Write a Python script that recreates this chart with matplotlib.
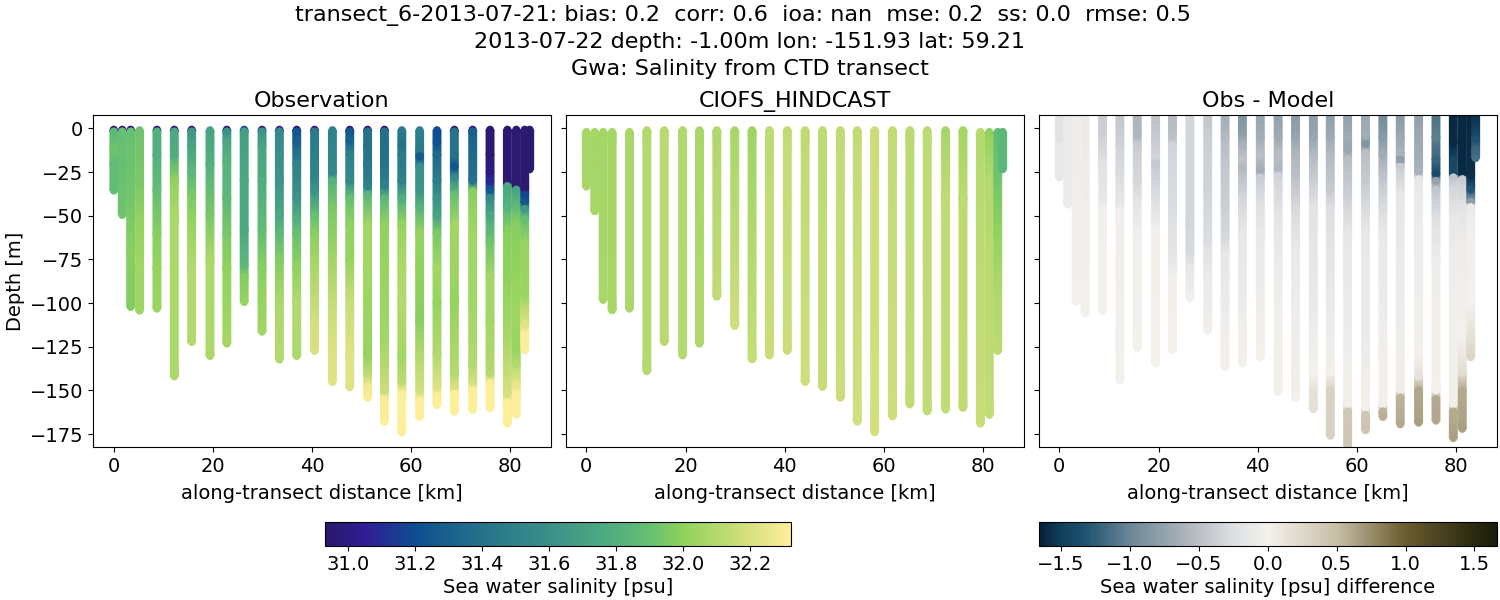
import matplotlib
matplotlib.use('Agg')
import matplotlib.pyplot as plt
from matplotlib.cm import ScalarMappable
from matplotlib.colors import LinearSegmentedColormap, Normalize

title_text = ('transect_6-2013-07-21: bias: 0.2  corr: 0.6  ioa: nan  mse: 0.2  ss: 0.0  rmse: 0.5  \n'
	'2013-07-22 depth: -1.00m lon: -151.93 lat: 59.21\n'
	'Gwa: Salinity from CTD transect')

# along-transect position of each cast, km
distance = [0, 1.7, 3.4, 5.2, 8.7, 12.2, 15.7, 19.4, 22.8, 26.3, 29.9, 33.4, 36.9, 40.5,
	44.1, 47.6, 51.2, 54.6, 58.1, 61.7, 65.2, 68.7, 72.4, 75.9, 79.4, 81.2, 82.9, 83.9]

# each cast is a list of depths (m) and the value read at each of them
obs_depth = [
	[0.7, 1.7, 12, 20, 35.6],
	[0.7, 1.7, 20, 49.5],
	[0.7, 1.7, 40, 70, 102.2],
	[1, 30, 50, 80, 104.3],
	[0.7, 1.7, 15, 35, 60, 80, 103.2],
	[0.7, 1.7, 15, 30, 50, 142],
	[0.7, 1.7, 10, 25, 38, 50, 80, 122.3],
	[1, 20, 50, 75, 130.3],
	[0.7, 1.7, 8, 18, 40, 60, 80, 123.2],
	[0.7, 1.7, 30, 58, 78, 85, 99.4],
	[0.7, 1.7, 10, 30, 58, 80, 116.4],
	[0.7, 1.7, 15, 30, 50, 60, 75, 100, 132.4],
	[0.7, 1.7, 8, 20, 40, 52, 60, 80, 100, 130.3],
	[0.7, 1.7, 20, 28, 36, 50, 60, 75, 110, 127.4],
	[1, 25, 30, 45, 70, 100, 130, 145.2],
	[0.7, 1.7, 7, 15, 30, 40, 55, 75, 95, 130, 148.2],
	[0.7, 1.7, 10, 20, 33, 38, 55, 80, 130, 140, 148, 154.2],
	[0.7, 1.7, 10, 20, 33, 40, 55, 120, 135, 150, 155, 168],
	[1, 10, 15, 30, 40, 55, 80, 100, 130, 145, 152, 174.2],
	[1, 12, 16, 22, 35, 45, 60, 78, 110, 130, 150, 156, 165.2],
	[1, 8, 15, 30, 40, 50, 60, 80, 100, 130, 148, 153, 158.4],
	[0.7, 1.7, 15, 22, 28, 38, 55, 100, 140, 148, 152, 162.2],
	[0.7, 1.7, 30, 36, 60, 100, 135, 145, 150, 161.2],
	[0.7, 15, 25, 30, 35, 40, 50, 65, 85, 110, 140, 146, 160.2],
	[0.7, 31, 33, 45, 58, 85, 120, 140, 152, 157, 169],
	[0.7, 33, 35, 45, 55, 80, 110, 126, 135, 147, 152, 164],
	[0.7, 34, 38, 42, 46, 52, 65, 95, 105, 112, 118, 127],
	[0.7, 23.4],
]
obs_salinity = [
	[30.95, 31.85, 31.92, 31.88, 31.88],
	[31.0, 31.9, 31.9, 31.92],
	[30.95, 31.9, 31.93, 31.98, 31.97],
	[31.92, 31.95, 32.0, 32.05, 32.04],
	[30.95, 31.8, 31.8, 31.88, 31.98, 32.02, 32.03],
	[30.95, 31.75, 31.78, 32.0, 32.08, 32.08],
	[31.0, 31.65, 31.72, 31.85, 31.95, 32.0, 32.1, 32.1],
	[31.72, 31.8, 31.95, 32.08, 32.08],
	[30.95, 31.6, 31.75, 31.82, 31.85, 31.95, 32.0, 32.06],
	[31.2, 31.68, 31.75, 31.75, 31.85, 31.97, 32.02],
	[31.0, 31.62, 31.72, 31.78, 31.88, 31.98, 32.05],
	[31.05, 31.55, 31.6, 31.62, 31.75, 31.85, 31.97, 32.08, 32.1],
	[30.95, 31.25, 31.3, 31.5, 31.62, 31.8, 31.9, 32.0, 32.1, 32.08],
	[31.0, 31.45, 31.5, 31.52, 31.62, 31.9, 31.98, 32.05, 32.18, 32.2],
	[31.5, 31.55, 31.82, 31.95, 32.03, 32.15, 32.22, 32.22],
	[31.0, 31.25, 31.3, 31.5, 31.55, 31.9, 32.0, 32.02, 32.14, 32.22, 32.22],
	[31.0, 31.4, 31.4, 31.42, 31.5, 31.85, 32.05, 32.05, 32.02, 32.12, 32.28, 32.3],
	[30.95, 31.4, 31.38, 31.4, 31.5, 31.85, 32.0, 32.05, 32.1, 32.16, 32.3, 32.32],
	[31.45, 31.4, 31.45, 31.5, 31.78, 32.02, 32.08, 32.1, 32.05, 32.12, 32.32, 32.32],
	[31.5, 31.45, 31.25, 31.6, 31.62, 31.82, 32.02, 32.0, 31.98, 32.1, 32.18, 32.32, 32.32],
	[31.2, 31.22, 31.35, 31.48, 31.62, 31.72, 31.95, 32.05, 32.02, 32.1, 32.22, 32.32, 32.32],
	[30.95, 31.4, 31.4, 31.25, 31.55, 31.9, 32.05, 32.02, 32.1, 32.2, 32.32, 32.32],
	[30.98, 31.3, 31.4, 31.98, 32.05, 32.05, 32.1, 32.18, 32.32, 32.32],
	[30.95, 30.95, 31.0, 31.08, 31.25, 31.55, 31.75, 31.92, 32.05, 32.05, 32.1, 32.32, 32.32],
	[30.95, 30.95, 31.75, 31.82, 31.98, 32.0, 32.07, 32.15, 32.2, 32.32, 32.32],
	[30.95, 30.95, 31.72, 31.88, 31.98, 32.0, 32.05, 32.02, 32.1, 32.25, 32.32, 32.32],
	[30.95, 30.95, 31.18, 31.25, 31.65, 31.9, 32.02, 32.03, 32.15, 32.22, 32.32, 32.32],
	[30.95, 30.95],
]

model_depth = [
	[2, 33.3],
	[2, 47.4],
	[2, 98.2],
	[2, 104.1],
	[2, 103.2],
	[1, 139],
	[1, 122.3],
	[1, 130],
	[1, 123.2],
	[1, 96.3],
	[1, 113.1],
	[1, 132.2],
	[1, 130],
	[1, 127.3],
	[1, 145.2],
	[1, 148],
	[1, 154.2],
	[1, 167.9],
	[1, 174],
	[1, 165],
	[1, 158],
	[1, 162],
	[1, 40, 161],
	[1, 40, 160],
	[2, 169],
	[2, 30, 164],
	[2, 30, 60, 90, 127.4],
	[2, 23.4],
]
model_salinity = [
	[32.06, 32.07],
	[32.06, 32.07],
	[32.05, 32.07],
	[32.05, 32.07],
	[32.07, 32.08],
	[32.1, 32.1],
	[32.11, 32.11],
	[32.09, 32.1],
	[32.07, 32.09],
	[32.09, 32.13],
	[32.07, 32.17],
	[32.04, 32.15],
	[32.12, 32.16],
	[32.14, 32.16],
	[32.13, 32.17],
	[32.12, 32.15],
	[32.13, 32.16],
	[32.14, 32.18],
	[32.16, 32.18],
	[32.14, 32.17],
	[32.11, 32.14],
	[32.12, 32.14],
	[32.06, 32.13, 32.14],
	[32.05, 32.12, 32.13],
	[32.1, 32.16],
	[32.0, 32.1, 32.14],
	[31.87, 31.93, 32.01, 32.08, 32.12],
	[31.85, 31.85],
]

diff_depth = [
	[-10, 5, 10, 28],
	[-10, 43.6],
	[-10, 99.2],
	[-10, 30, 105.8],
	[-10, 2, 20, 43, 46, 80, 104.5],
	[-10, 10, 25, 43, 47, 144.2],
	[-10, 4, 10, 30, 42, 60, 125.7],
	[-10, 8, 16, 20, 40, 58, 134.5],
	[-10, 4, 10, 50, 75, 85, 126.9],
	[-10, 55, 70, 80, 97.2],
	[-10, 5, 35, 65, 85, 115.8],
	[-10, 5, 20, 45, 62, 72, 100, 136.6],
	[-10, 2, 10, 18, 22, 40, 60, 100, 134.5],
	[-10, 5, 15, 24, 28, 42, 60, 131],
	[-10, 5, 15, 23, 27, 50, 80, 150.9],
	[-10, 5, 15, 27, 45, 70, 154.2],
	[-10, 5, 15, 30, 45, 110, 140, 150, 160.8],
	[-10, 5, 15, 35, 45, 100, 140, 150, 176],
	[-10, 5, 12, 18, 38, 60, 125, 158, 162, 190],
	[-10, 4, 9, 14, 30, 45, 60, 130, 160, 164, 172.8],
	[-10, 5, 15, 27, 45, 60, 130, 158, 162, 165.2],
	[-10, 5, 14, 18, 22, 38, 130, 150, 154, 169.4],
	[-10, 25, 29, 40, 130, 142, 150, 168.5],
	[-10, 5, 18, 26, 30, 35, 50, 75, 150, 155, 167.3],
	[-10, 8, 18, 26, 28, 35, 50, 70, 130, 158, 162, 177.3],
	[-10, 26, 29, 45, 65, 120, 140, 150, 172],
	[-10, 27, 35, 42, 45, 60, 100, 120, 131],
	[-10, 6, 12, 17],
]
diff_salinity = [
	[-0.22, -0.22, -0.14, -0.13],
	[-0.1, -0.09],
	[-0.07, -0.03],
	[-0.1, -0.06, -0.02],
	[-0.42, -0.38, -0.22, -0.12, -0.05, -0.02, 0.01],
	[-0.48, -0.36, -0.28, -0.15, -0.05, 0.01],
	[-0.6, -0.58, -0.4, -0.3, -0.18, -0.05, 0.01],
	[-0.5, -0.4, -0.35, -0.42, -0.25, -0.05, 0.01],
	[-0.55, -0.5, -0.33, -0.25, -0.15, -0.05, 0.0],
	[-0.33, -0.33, -0.3, -0.14, -0.03],
	[-0.48, -0.38, -0.34, -0.26, -0.1, -0.05],
	[-0.68, -0.55, -0.45, -0.38, -0.3, -0.15, -0.08, 0.0],
	[-0.88, -0.8, -0.6, -0.48, -0.55, -0.32, -0.15, -0.07, 0.0],
	[-0.75, -0.65, -0.52, -0.65, -0.4, -0.25, -0.12, 0.0],
	[-0.78, -0.68, -0.52, -0.58, -0.35, -0.18, -0.07, 0.02],
	[-0.85, -0.72, -0.58, -0.5, -0.3, -0.1, 0.02],
	[-0.8, -0.72, -0.55, -0.38, -0.2, -0.08, 0.0, 0.15, 0.18],
	[-0.8, -0.68, -0.55, -0.42, -0.25, -0.1, 0.02, 0.3, 0.32],
	[-0.78, -0.68, -0.72, -0.52, -0.38, -0.15, -0.06, 0.02, 0.4, 0.42],
	[-0.72, -0.65, -0.85, -0.5, -0.42, -0.28, -0.12, -0.07, 0.02, 0.42, 0.45],
	[-0.98, -0.82, -0.65, -0.48, -0.28, -0.12, -0.05, 0.02, 0.55, 0.58],
	[-0.85, -0.7, -0.62, -0.78, -0.4, -0.15, -0.05, 0.05, 0.55, 0.6],
	[-0.78, -0.62, -0.15, -0.08, -0.03, 0.15, 0.62, 0.65],
	[-1.15, -1.05, -1.22, -1.38, -0.75, -0.45, -0.25, -0.07, 0.02, 0.6, 0.62],
	[-1.62, -1.6, -1.42, -1.42, -0.45, -0.32, -0.15, -0.07, -0.03, 0.03, 0.6, 0.65],
	[-1.62, -1.6, -0.4, -0.2, -0.07, -0.02, 0.2, 0.6, 0.65],
	[-1.62, -1.58, -1.3, -0.8, -0.1, -0.03, 0.0, 0.18, 0.28],
	[-1.6, -1.35, -1.2, -1.15],
]

sal_min = 30.93
sal_max = 32.32
diff_lim = 1.664

# stand-ins for cmocean haline and diff, which may not be installed
haline_colors = [(0.0, '#2a186c'), (0.088, '#2f1e96'), (0.196, '#0e4f90'), (0.34, '#25738a'),
	(0.483, '#3a908a'), (0.626, '#52b07e'), (0.698, '#66bf72'), (0.77, '#8fd25c'),
	(0.914, '#d8e07f'), (1.0, '#fdee99')]
diff_colors = [(0.0, '#051f38'), (0.049, '#123f5c'), (0.1, '#1d5270'), (0.2, '#6b8796'),
	(0.35, '#bcc0c6'), (0.425, '#dde0e3'), (0.5, '#f5f1ed'), (0.65, '#c8bfa8'),
	(0.8, '#6b5d2f'), (0.951, '#2a2a10'), (1.0, '#1c1d0a')]
haline = LinearSegmentedColormap.from_list('haline', haline_colors)
diffmap = LinearSegmentedColormap.from_list('diff', diff_colors)

plt.rcParams['font.size'] = 14

half_width = 0.8  # km, matches the 8 px marker


def draw_casts(axes, depths, values, cmap, norm):
	# gouraud strip for the gradient, round markers at the read depths on top
	for x, depth, value in zip(distance, depths, values):
		y = [-d for d in depth]
		mesh_x = [[x - half_width, x + half_width] for d in depth]
		mesh_y = [[d, d] for d in y]
		mesh_c = [[v, v] for v in value]
		axes.pcolormesh(mesh_x, mesh_y, mesh_c, cmap=cmap, norm=norm, shading='gouraud')
		axes.scatter([x] * len(y), y, c=value, cmap=cmap, norm=norm, s=33, linewidths=0)


figure = plt.figure(figsize=(15, 6), dpi=100)


def box(left, right, top, bottom):
	return [left / 1500, 1 - bottom / 600, (right - left) / 1500, (bottom - top) / 600]


ax_obs = figure.add_axes(box(93, 551, 115, 447))
ax_model = figure.add_axes(box(565.5, 1024, 115, 447))
ax_diff = figure.add_axes(box(1038.5, 1497, 115, 447))

sal_norm = Normalize(sal_min, sal_max)
diff_norm = Normalize(-diff_lim, diff_lim)
draw_casts(ax_obs, obs_depth, obs_salinity, haline, sal_norm)
draw_casts(ax_model, model_depth, model_salinity, haline, sal_norm)
draw_casts(ax_diff, diff_depth, diff_salinity, diffmap, diff_norm)

for axes, name in zip([ax_obs, ax_model, ax_diff], ['Observation', 'CIOFS_HINDCAST', 'Obs - Model']):
	axes.set_xlim(-4.2, 88.2)
	axes.set_ylim(-182.4, 7.7)
	axes.set_xticks([0, 20, 40, 60, 80])
	axes.set_yticks([0, -25, -50, -75, -100, -125, -150, -175])
	axes.set_title(name, fontsize=16, pad=6)
	axes.set_xlabel('along-transect distance [km]', labelpad=6)
ax_obs.set_yticklabels(['0', '\u221225', '\u221250', '\u221275', '\u2212100', '\u2212125', '\u2212150', '\u2212175'])
ax_obs.set_ylabel('Depth [m]', labelpad=3)
ax_model.set_yticklabels([])
ax_diff.set_yticklabels([])

cax_sal = figure.add_axes(box(325, 790.5, 522, 545.5))
bar_sal = figure.colorbar(ScalarMappable(sal_norm, haline), cax=cax_sal, orientation='horizontal')
bar_sal.set_ticks([31.0, 31.2, 31.4, 31.6, 31.8, 32.0, 32.2])
bar_sal.set_label('Sea water salinity [psu]', labelpad=3)

cax_diff = figure.add_axes(box(1038.5, 1497, 522, 545.5))
bar_diff = figure.colorbar(ScalarMappable(diff_norm, diffmap), cax=cax_diff, orientation='horizontal')
bar_diff.set_ticks([-1.5, -1.0, -0.5, 0.0, 0.5, 1.0, 1.5])
bar_diff.set_label('Sea water salinity [psu] difference', labelpad=3)

figure.text(0.5, 0.991, title_text, ha='center', va='top', fontsize=16, linespacing=1.38)

figure.savefig('out.png', dpi=100)
